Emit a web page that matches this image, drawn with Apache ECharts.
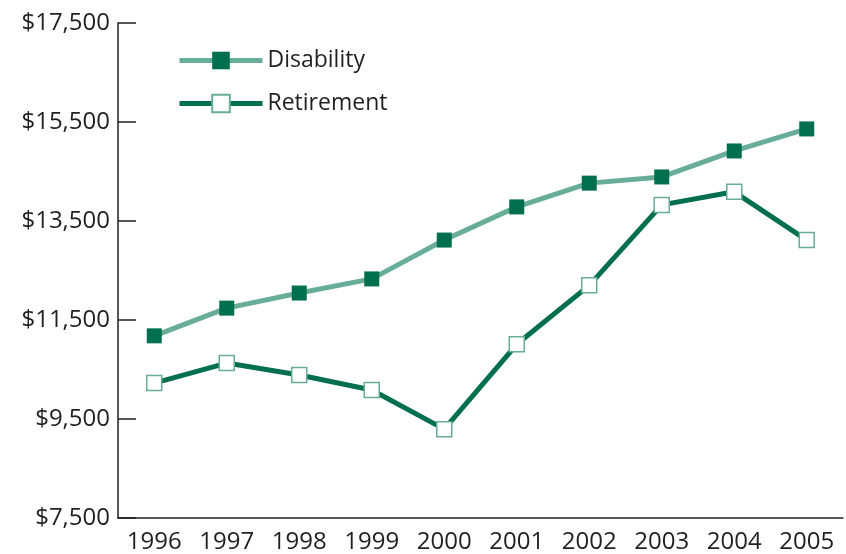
<!DOCTYPE html>
<html>
<head>
<meta charset="utf-8">
<script src="https://cdn.jsdelivr.net/npm/echarts@6/dist/echarts.min.js"></script>
<style>
html,body{margin:0;padding:0;background:#fff;}
#chart{width:846px;height:554px;}
</style>
</head>
<body>
<div id="chart"></div>
<script>
var years = ['1996','1997','1998','1999','2000','2001','2002','2003','2004','2005'];
var disability = [11180, 11740, 12045, 12330, 13115, 13785, 14265, 14390, 14915, 15360];
var retirement = [10225, 10630, 10390, 10085, 9295, 11010, 12200, 13825, 14090, 13115];
var yTicks = [7500, 9500, 11500, 13500, 15500, 17500];

var dark = '#006f4e';
var light = '#68ad97';
var axisColor = '#231f20';
var font = 'Open Sans';

var chart = echarts.init(document.getElementById('chart'));
chart.setOption({
  animation: false,
  backgroundColor: '#fff',
  grid: {left: 118, right: 3, top: 23, bottom: 36, containLabel: false},
  legend: {
    orient: 'vertical',
    left: 177,
    top: 49,
    padding: 0,
    itemWidth: 83,
    itemHeight: 22,
    itemGap: 20,
    lineStyle: {width: 5},
    textStyle: {fontFamily: font, fontSize: 23, color: axisColor},
    data: ['Disability', 'Retirement']
  },
  xAxis: {
    type: 'category',
    data: years,
    boundaryGap: true,
    axisLine: {lineStyle: {color: axisColor, width: 1.5}},
    axisTick: {inside: true, length: 12, alignWithLabel: true, lineStyle: {color: axisColor, width: 1.5}},
    axisLabel: {fontFamily: font, fontSize: 24, color: axisColor, margin: 12},
    splitLine: {show: false}
  },
  yAxis: {
    type: 'value',
    min: yTicks[0],
    max: yTicks[yTicks.length - 1],
    interval: yTicks[1] - yTicks[0],
    axisLine: {show: true, lineStyle: {color: axisColor, width: 1.5}},
    axisTick: {show: true, inside: true, length: 18, lineStyle: {color: axisColor, width: 1.5}},
    axisLabel: {
      fontFamily: font, fontSize: 24, color: axisColor, margin: 8,
      formatter: function (v) { return '$' + v.toLocaleString('en-US'); }
    },
    splitLine: {show: false}
  },
  series: [
    {
      name: 'Disability',
      type: 'line',
      data: disability,
      symbol: 'rect',
      symbolSize: 15,
      lineStyle: {color: light, width: 5},
      itemStyle: {color: dark, borderWidth: 0}
    },
    {
      name: 'Retirement',
      type: 'line',
      data: retirement,
      symbol: 'rect',
      symbolSize: 15,
      lineStyle: {color: dark, width: 5},
      itemStyle: {color: '#ffffff', borderColor: light, borderWidth: 1.5}
    }
  ]
});
</script>
</body>
</html>
